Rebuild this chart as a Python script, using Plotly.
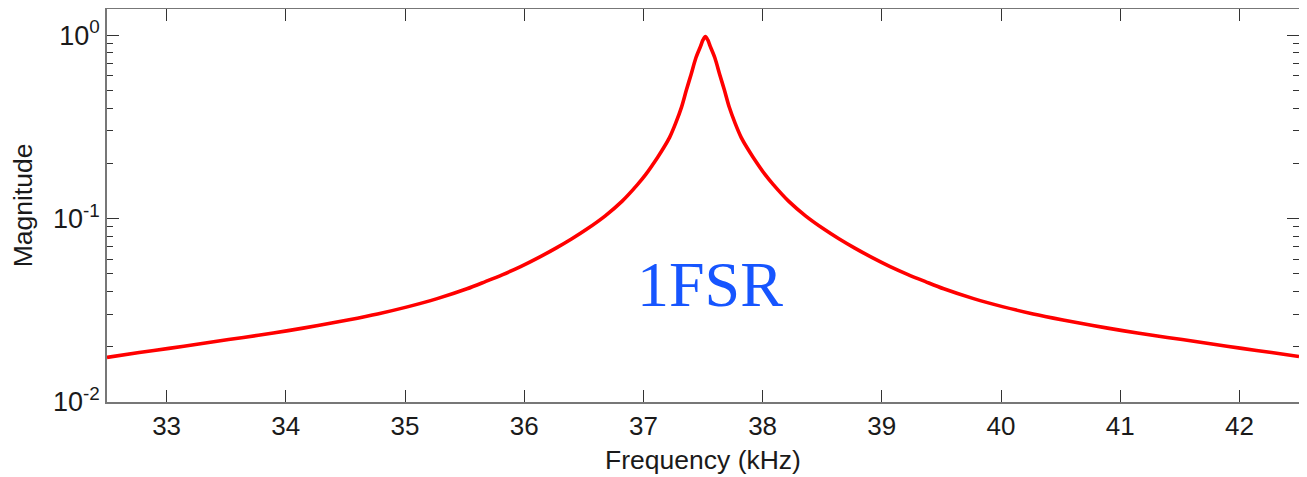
import plotly.graph_objects as go

# Values (frequency in kHz, magnitude on log scale)
freq_khz = [32.50, 32.77, 33.02, 33.27, 33.52, 33.77, 34.02, 34.27, 34.52, 34.77,
            35.02, 35.27, 35.52, 35.67, 35.82, 35.97, 36.12, 36.27, 36.40, 36.52,
            36.68, 36.82, 36.95, 37.02, 37.12, 37.17, 37.22, 37.27, 37.32, 37.36,
            37.40, 37.44, 37.48, 37.50, 37.52, 37.54, 37.56, 37.60, 37.64, 37.68,
            37.72, 37.77, 37.82, 37.87, 37.92, 38.02, 38.09, 38.22, 38.36, 38.52,
            38.64, 38.77, 38.92, 39.07, 39.22, 39.37, 39.52, 39.77, 40.02, 40.27,
            40.52, 40.77, 41.02, 41.27, 41.52, 41.77, 42.02, 42.27, 42.50]
magnitude = [0.0175, 0.0186, 0.0196, 0.0207, 0.0219, 0.0231, 0.0245, 0.0261, 0.0280, 0.0302,
             0.0330, 0.0366, 0.0414, 0.0452, 0.0495, 0.0547, 0.0612, 0.0692, 0.0776, 0.0871,
             0.1035, 0.124, 0.153, 0.174, 0.216, 0.243, 0.277, 0.330, 0.405, 0.500,
             0.610, 0.750, 0.870, 0.940, 0.980, 0.940, 0.870, 0.750, 0.610, 0.500,
             0.405, 0.330, 0.277, 0.243, 0.216, 0.174, 0.153, 0.124, 0.1035, 0.0871,
             0.0776, 0.0692, 0.0612, 0.0547, 0.0495, 0.0452, 0.0414, 0.0366, 0.0330, 0.0302,
             0.0280, 0.0261, 0.0245, 0.0231, 0.0219, 0.0207, 0.0196, 0.0186, 0.0177]

x_ticks = [33, 34, 35, 36, 37, 38, 39, 40, 41, 42]
y_ticks = [0.01, 0.1, 1]
y_tick_text = ["10<sup>-2</sup>", "10<sup>-1</sup>", "10<sup>0</sup>"]
y_minor = [0.02, 0.03, 0.04, 0.05, 0.06, 0.07, 0.08, 0.09,
           0.2, 0.3, 0.4, 0.5, 0.6, 0.7, 0.8, 0.9]

annotation_text = "1FSR"
annotation_x = 37.56
annotation_y_log = -1.36

fig = go.Figure()
fig.add_trace(go.Scatter(
    x=freq_khz, y=magnitude, mode="lines",
    line=dict(color="#ff0000", width=3.6, shape="spline", smoothing=0.8),
    showlegend=False, hoverinfo="skip",
))

font_family = "Liberation Sans, Arial, Helvetica, sans-serif"
axis_color = "#777777"
tick_color = "#333333"

# page body has an 8px margin, so the figure is sized/offset to compensate
fig.update_layout(
    width=1299, height=469,
    margin=dict(l=99, r=8, t=1, b=75),
    paper_bgcolor="white", plot_bgcolor="white",
    font=dict(family=font_family, size=26, color="#1a1a1a"),
    xaxis=dict(
        range=[32.5, 42.5], tickmode="array", tickvals=x_ticks,
        ticks="inside", ticklen=12, tickwidth=1, tickcolor=tick_color,
        showline=True, linecolor=axis_color, linewidth=1.5, mirror="ticks",
        showgrid=False, zeroline=False, automargin=False,
        tickfont=dict(size=26),
        title=dict(text="Frequency (kHz)", font=dict(size=26.5), standoff=10),
    ),
    yaxis=dict(
        type="log", range=[-2, 0.142], tickmode="array",
        tickvals=y_ticks, ticktext=y_tick_text,
        ticks="inside", ticklen=12, tickwidth=1, tickcolor=tick_color,
        minor=dict(tickmode="array", tickvals=y_minor, ticks="inside",
                   ticklen=6, tickwidth=1, tickcolor=tick_color, showgrid=False),
        showline=True, linecolor=axis_color, linewidth=1.5, mirror="ticks",
        showgrid=False, zeroline=False, automargin=False,
        tickfont=dict(size=27),
        title=dict(text="Magnitude", font=dict(size=26.5), standoff=14),
    ),
    annotations=[dict(
        x=annotation_x, y=annotation_y_log, xref="x", yref="y",
        text=annotation_text, showarrow=False,
        font=dict(family="Liberation Serif, Times New Roman, serif", size=64, color="#1655ff"),
    )],
)

fig.write_html("out.html")
